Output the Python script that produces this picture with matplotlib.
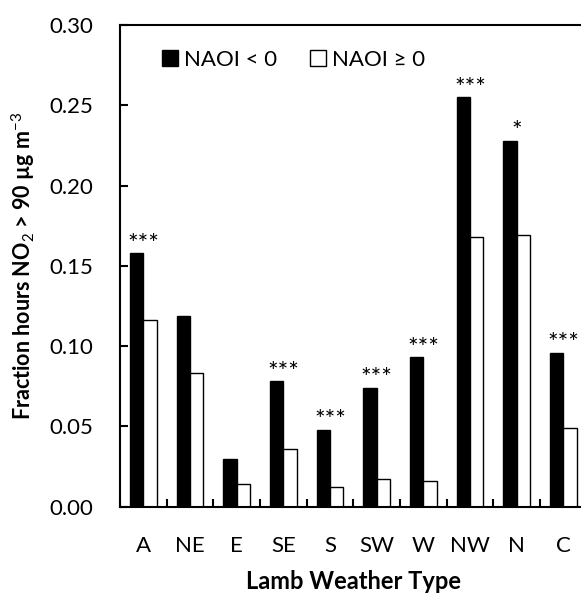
import matplotlib
matplotlib.use("Agg")
from matplotlib import pyplot as plt
import numpy as np

plt.rcParams['font.family'] = ['Lato', 'DejaVu Sans']
plt.rcParams['mathtext.fontset'] = 'custom'
plt.rcParams['mathtext.rm'] = 'Lato'
plt.rcParams['mathtext.bf'] = 'Lato:bold'

types = ["A", "NE", "E", "SE", "S", "SW", "W", "NW", "N", "C"]
naoi_neg = [0.158, 0.119, 0.030, 0.078, 0.048, 0.074, 0.093, 0.255, 0.228, 0.096]
naoi_pos = [0.116, 0.083, 0.014, 0.036, 0.012, 0.017, 0.016, 0.168, 0.169, 0.049]
signif = ["***", "", "", "***", "***", "***", "***", "***", "*", "***"]

fig = plt.figure(figsize=(5.81, 5.94), dpi=100)
ax = fig.add_axes([120/581, 1 - 506.7/594, 466.7/581, (506.7 - 25)/594])

x = np.arange(len(types))
w = 0.285
ax.bar(x - w/2, naoi_neg, w, color="black", edgecolor="black", linewidth=1, label="NAOI < 0")
ax.bar(x + w/2, naoi_pos, w, color="white", edgecolor="black", linewidth=1, label="NAOI \u2265 0")

for xi, v, s in zip(x, naoi_neg, signif):
    if s:
        ax.annotate(s, (xi, v), xytext=(0, 1), textcoords="offset points",
                    ha="center", va="baseline", fontsize=18)

ax.set_xlim(-0.5, len(types) - 0.5)
ax.set_ylim(0, 0.30)
ax.set_yticks(np.arange(0, 0.31, 0.05))
ax.set_yticklabels(["%.2f" % t for t in np.arange(0, 0.31, 0.05)])
ax.set_xticks(x)
ax.set_xticklabels(types)
ax.set_xticks(np.arange(-0.5, len(types), 1), minor=True)
ax.tick_params(axis="x", which="major", length=0, pad=21, labelsize=16)
ax.tick_params(axis="x", which="minor", direction="in", length=6, width=1.5)
ax.tick_params(axis="y", direction="in", length=6, width=1.5, pad=19.5, labelsize=16)
for sp in ax.spines.values():
    sp.set_linewidth(1.5)

ax.set_ylabel("Fraction hours NO$_2$ > 90 \u00b5g m$^{-3}$", fontsize=15.5, fontweight="bold", labelpad=9)
ax.set_xlabel("Lamb Weather Type", fontsize=17, fontweight="bold", labelpad=10)

ax.legend(loc="upper left", bbox_to_anchor=(0.09, 0.948), ncol=2, frameon=False, fontsize=16,
          borderpad=0, borderaxespad=0,
          handlelength=0.72, handleheight=0.72, handletextpad=0.25, columnspacing=1.5)

fig.savefig("out.png", dpi=100)
